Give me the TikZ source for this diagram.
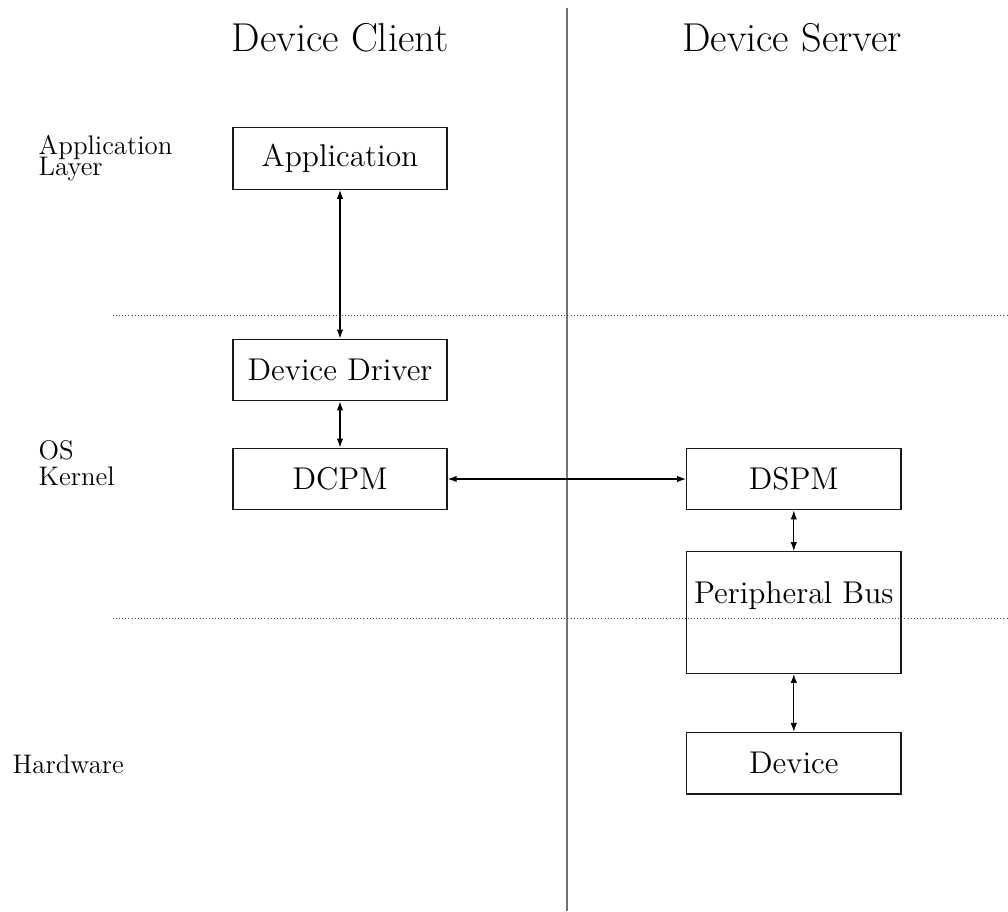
\documentclass[tikz,border=0pt]{standalone}
\usetikzlibrary{arrows.meta}
\tikzset{
  box/.style={draw=black!90, line width=0.65pt, minimum width=100.4pt, minimum height=28.8pt, inner sep=0pt, font=\fontsize{14.75}{17}\selectfont},
  arr/.style={line width=0.55pt, {Latex[length=4.2pt,width=3pt]}-{Latex[length=4.2pt,width=3pt]}},
  title/.style={font=\fontsize{18.9}{22}\selectfont, inner sep=0pt, anchor=base},
  lbl/.style={font=\fontsize{12.6}{15}\selectfont, inner sep=0pt, anchor=base west},
  sep/.style={black!75, densely dotted, line width=0.45pt},
  divider/.style={black!55, line width=0.9pt}
}
\begin{document}
\begin{tikzpicture}[x=0.469pt, y=-0.469pt]
\useasboundingbox (0,0) rectangle (1008,911);
% divider and separators
\draw[divider] (567,7.5) -- (567,911);
\draw[sep] (113,315.7) -- (1008,315.7);
\draw[sep] (113,618.3) -- (1008,618.3);
% titles
\node[title] (tclient) at (340,51) {Device Client};
\node[title] (tserver) at (792,51) {Device Server};
% layer labels
\node[lbl] (lapp1) at (38.3,154.3) {Application};
\node[lbl] (lapp2) at (38.3,175.5) {Layer};
\node[lbl] (los1) at (38.3,459.5) {OS};
\node[lbl] (los2) at (38.3,485.5) {Kernel};
\node[lbl] (lhw) at (12.3,773.3) {Hardware};
% boxes
\node[box] (app) at (340,158.5) {Application};
\node[box] (dd) at (340,370) {Device Driver};
\node[box] (dcpm) at (340,479) {DCPM};
\node[box] (dspm) at (793.8,479) {DSPM};
\node[box, minimum height=57pt] (pbus) at (793.8,612.5) {};
\node[font=\fontsize{14.75}{17}\selectfont, inner sep=0pt, anchor=base] (pbustext) at (793.8,603.3) {Peripheral Bus};
\node[box] (dev) at (793.8,763.3) {Device};
% connectors
\draw[arr] (app) -- (dd);
\draw[arr] (dd) -- (dcpm);
\draw[arr] (dcpm) -- (dspm);
\draw[arr] (dspm) -- (pbus);
\draw[arr] (pbus) -- (dev);
\end{tikzpicture}
\end{document}
